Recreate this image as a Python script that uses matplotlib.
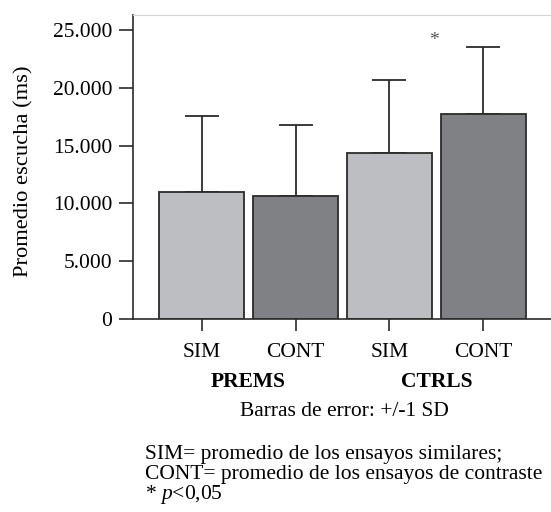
import numpy as np
import matplotlib
matplotlib.use("Agg")
import matplotlib.pyplot as plt
from matplotlib.ticker import FuncFormatter

plt.rcParams['font.family'] = ['Liberation Serif', 'DejaVu Serif']
plt.rcParams['mathtext.fontset'] = 'custom'
plt.rcParams['mathtext.it'] = 'Liberation Serif:italic'
plt.rcParams['mathtext.rm'] = 'Liberation Serif'

conds = ['SIM', 'CONT', 'SIM', 'CONT']
groups = ['PREMS', 'CTRLS']
means = [10950, 10600, 14400, 17750]
sds = [6650, 6200, 6300, 5750]
colors = ['#bdbec1', '#808184', '#bdbec1', '#808184']

fs = 15.5
fig = plt.figure(figsize=(5.51, 5.12), dpi=100)
ax = fig.add_axes([0.2414, 0.377, 0.7586, 0.5937])

x = np.arange(len(means))
ax.bar(x, means, width=0.9, color=colors, edgecolor='#2b2b2b', linewidth=1.3, zorder=2)
ax.errorbar(x, means, yerr=[np.zeros(4), sds], fmt='none', ecolor='#2b2b2b',
            elinewidth=1.3, capsize=12, capthick=1.3, zorder=1)
ax.text(3 - 0.53, 23400, '*', ha='center', va='bottom', fontsize=14, color='#555555')

ax.set_xlim(-0.73, 3.72)
ax.set_ylim(0, 26300)
ax.set_yticks([0, 5000, 10000, 15000, 20000, 25000])
ax.yaxis.set_major_formatter(FuncFormatter(lambda v, p: f'{int(v):,}'.replace(',', '.')))
ax.set_xticks(x)
ax.set_xticklabels(conds)
ax.tick_params(axis='both', labelsize=fs, color='#2b2b2b', width=1.2)
ax.tick_params(axis='y', length=10, pad=5)
ax.tick_params(axis='x', length=8.6, pad=9)

for s in ['left', 'bottom']:
    ax.spines[s].set_color('#2b2b2b')
    ax.spines[s].set_linewidth(1.2)
ax.spines['top'].set_color('#d4d4d4')
ax.spines['right'].set_visible(False)

ax.set_ylabel('Promedio escucha (ms)', fontsize=16.2)
ax.yaxis.set_label_coords(-0.238, 0.485)

for i, g in enumerate(groups):
    xc = (2 * i + 0.5 + 0.73) / 4.45
    fig.text(0.2414 + 0.7586 * xc, 1 - 382 / 512, g, ha='center', va='center',
             fontsize=fs, fontweight='bold')

fig.text(344 / 551, 1 - 411 / 512, 'Barras de error: +/-1 SD', ha='center', va='center', fontsize=fs)
fig.text(145 / 551, 1 - 455 / 512, 'SIM= promedio de los ensayos similares;', ha='left', va='center', fontsize=fs)
fig.text(145 / 551, 1 - 475 / 512, 'CONT= promedio de los ensayos de contraste', ha='left', va='center', fontsize=fs)
fig.text(145 / 551, 1 - 495 / 512, '* $p$<0,05', ha='left', va='center', fontsize=fs)

fig.savefig('out.png', dpi=100)
